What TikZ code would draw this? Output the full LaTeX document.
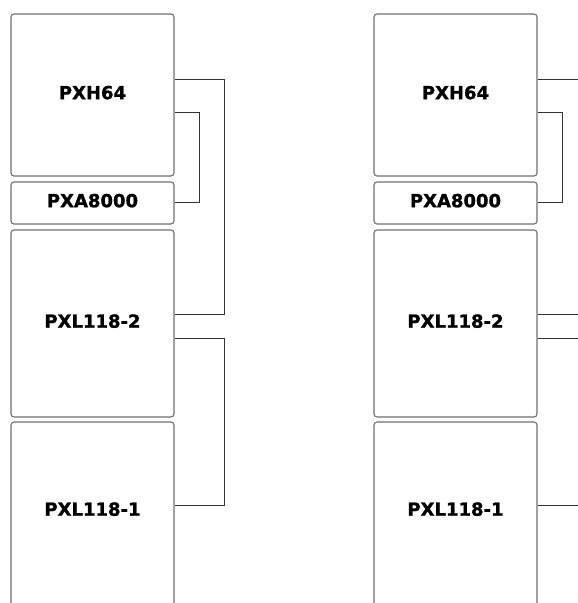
\documentclass[tikz,border=0pt]{standalone}
\usepackage{fontspec}
\setmainfont{DejaVu Sans}[BoldFeatures={FakeBold=1.2}]
\usetikzlibrary{positioning}
\definecolor{rackEdge}{RGB}{112,112,112}
\definecolor{rackWire}{RGB}{51,51,51}
\begin{document}
\begin{tikzpicture}[x=1pt,y=-1pt]
\tikzset{
unit/.style={rounded corners=3pt,draw=rackEdge,line width=1.1pt,fill=white,minimum width=163pt,
font=\bfseries\fontsize{18}{20}\selectfont,text=black,inner sep=0pt,text depth=5pt},
wire/.style={draw=rackWire,line width=.9pt}
}
\useasboundingbox (0,0) rectangle (578,603);

% left stack
\node[unit,minimum height=162pt] (hxL) at (92.5,95) {PXH64};
\node[unit,minimum height=42pt] (axL) at (92.5,203) {PXA8000};
\node[unit,minimum height=187pt] (ltwoL) at (92.5,323.5) {PXL118-2};
\node[unit,minimum height=186pt,text depth=12pt] (loneL) at (92.5,515) {PXL118-1};

\draw[wire] (hxL.east |- 0,79) -| (224,314) -- (ltwoL.east |- 0,314);
\draw[wire] (hxL.east |- 0,112) -| (199,202) -- (axL.east |- 0,202);
\draw[wire] (ltwoL.east |- 0,338) -| (224,505) -- (loneL.east |- 0,505);

% right stack
\node[unit,minimum height=162pt] (hxR) at (455.5,95) {PXH64};
\node[unit,minimum height=42pt] (axR) at (455.5,203) {PXA8000};
\node[unit,minimum height=187pt] (ltwoR) at (455.5,323.5) {PXL118-2};
\node[unit,minimum height=186pt,text depth=12pt] (loneR) at (455.5,515) {PXL118-1};

\coordinate (edgeA) at (578,79);
\coordinate (edgeB) at (578,314);
\coordinate (edgeC) at (578,338);
\coordinate (edgeD) at (578,505);
\draw[wire] (hxR.east |- edgeA) -- (edgeA);
\draw[wire] (hxR.east |- 0,112) -| (562,202) -- (axR.east |- 0,202);
\draw[wire] (ltwoR.east |- edgeB) -- (edgeB);
\draw[wire] (ltwoR.east |- edgeC) -- (edgeC);
\draw[wire] (loneR.east |- edgeD) -- (edgeD);
\end{tikzpicture}
\end{document}
